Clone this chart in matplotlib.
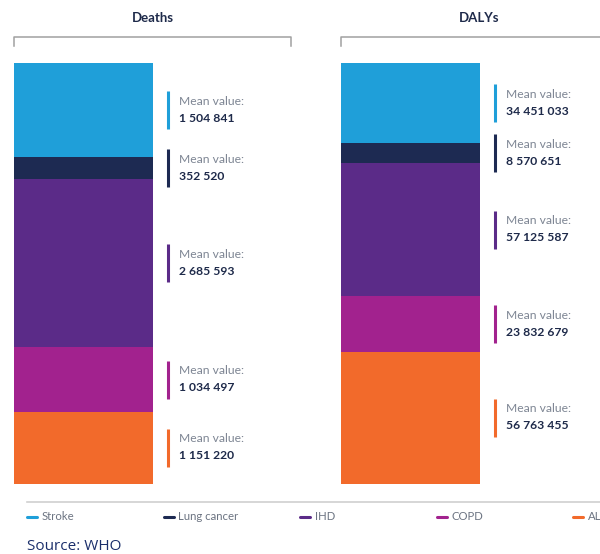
import matplotlib.pyplot as plt
from matplotlib.lines import Line2D

# causes, top to bottom in each stacked bar
causes = ['Stroke', 'Lung cancer', 'IHD', 'COPD', 'ALRI']
colors = ['#1f9fd9', '#1d2a52', '#5b2b88', '#a2228e', '#f26a2b']

deaths = [1504841, 352520, 2685593, 1034497, 1151220]
dalys = [34451033, 8570651, 57125587, 23832679, 56763455]

panels = ['Deaths', 'DALYs']
panel_values = [deaths, dalys]

plt.rcParams['font.family'] = ['Lato', 'DejaVu Sans']

W, H = 600, 554
fig = plt.figure(figsize=(W / 100, H / 100), dpi=100)


def fx(px):
    return px / W


def fy(py):
    return 1 - py / H


navy = '#1e2a4a'
grey_text = '#7d8593'
bracket_col = '#a0a0a0'

panel_left = [14, 341]
top, bottom = 63, 484
panel_w = 277

for left, name, values in zip(panel_left, panels, panel_values):
    ax = fig.add_axes([fx(left), fy(bottom), panel_w / W, (bottom - top) / H])
    ax.set_axis_off()
    total = sum(values)
    ax.set_xlim(0, 2)
    ax.set_ylim(0, total)
    px = total / (bottom - top)  # data units per pixel

    # stack from the bottom up, so the first cause ends up on top
    base = 0
    for cause, val, col in reversed(list(zip(causes, values, colors))):
        ax.bar(0, val, width=1.0, bottom=base, align='edge', color=col, lw=0)
        yc = base + val / 2
        ax.plot([1.115, 1.115], [yc - 19 * px, yc + 19 * px], color=col,
                lw=2.2, solid_capstyle='butt', clip_on=False)
        ax.text(1.19, yc + 9 * px, 'Mean value:', color=grey_text,
                fontsize=8.7, va='center', ha='left')
        ax.text(1.19, yc - 8 * px, f'{val:,}'.replace(',', ' '), color=navy,
                fontsize=8.7, fontweight='bold', va='center', ha='left')
        base += val

    # bracket and title above each bar
    yb = (bottom - 37) / (bottom - top)
    yt = (bottom - 46) / (bottom - top)
    ax.plot([0, 0, 1, 1], [yt, yb, yb, yt], transform=ax.transAxes,
            color=bracket_col, lw=1.1, clip_on=False)
    ax.text(0.5, (bottom - 18) / (bottom - top), name, transform=ax.transAxes,
            ha='center', va='center', fontsize=9.5, fontweight='bold', color=navy)

# legend row
fig.add_artist(Line2D([fx(27), fx(620)], [fy(502), fy(502)], color='#d0d0d0', lw=1.2))
for i, (cause, col) in enumerate(zip(causes, colors)):
    x0 = 27 + i * 136.5
    fig.add_artist(Line2D([fx(x0), fx(x0 + 10)], [fy(517), fy(517)],
                          color=col, lw=2.2, solid_capstyle='round'))
    fig.text(fx(x0 + 15), fy(517), cause, fontsize=8.2, color='#6c7482',
             va='center', ha='left')

fig.text(fx(27), fy(547), 'Source: WHO', fontsize=11, color='#1b2f6b',
         va='center', ha='left', family=['Open Sans', 'DejaVu Sans'])

fig.savefig('out.png', dpi=100)
